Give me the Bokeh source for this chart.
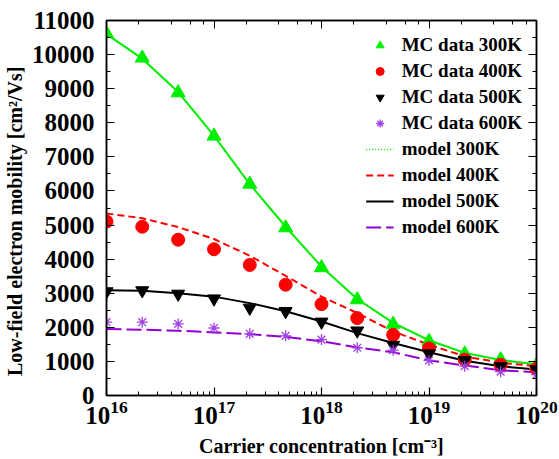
from bokeh.plotting import figure
from bokeh.models import (Range1d, SingleIntervalTicker, LinearAxis, LogAxis, Legend,
                          LegendItem, LogTicker, ColumnDataSource)
from bokeh.embed import file_html
from bokeh.resources import INLINE

conc = [1e16, 2.15e16, 4.64e16, 1e17, 2.15e17, 4.64e17, 1e18, 2.15e18, 4.64e18,
        1e19, 2.15e19, 4.64e19, 1e20]
mc300 = [10620, 9900, 8880, 7610, 6200, 4920, 3750, 2810, 2090, 1590, 1220, 1050, 900]
mc400 = [5100, 4950, 4570, 4290, 3830, 3250, 2680, 2270, 1780, 1380, 1050, 900, 780]
mc500 = [3050, 3080, 2980, 2840, 2570, 2470, 2160, 1900, 1480, 1230, 1030, 850, 760]
mc600 = [2150, 2150, 2100, 1980, 1810, 1750, 1640, 1400, 1330, 1030, 860, 700, 610]
model300 = [10600, 9880, 8900, 7620, 6200, 4950, 3780, 2830, 2130, 1620, 1250, 1040, 920]
model400 = [5340, 5200, 4940, 4590, 4100, 3510, 2900, 2420, 1880, 1490, 1150, 960, 860]
model500 = [3090, 3070, 3000, 2900, 2710, 2470, 2170, 1830, 1540, 1270, 1020, 860, 760]
model600 = [1950, 1930, 1900, 1850, 1800, 1720, 1590, 1410, 1270, 1030, 880, 740, 680]

GREEN = "#00ee00"
RED = "#ff0000"
BLACK = "#000000"
PURPLE = "#9400d3"
FONT = "Liberation Serif"

p = figure(width=559, height=459, x_axis_type="log", output_backend="svg",
           toolbar_location=None, x_range=Range1d(1e16, 1e20), y_range=Range1d(0, 11000),
           min_border_left=106, min_border_right=23, min_border_top=20, min_border_bottom=63)
p.grid.visible = False
p.outline_line_color = "black"
p.outline_line_width = 1.5

src = ColumnDataSource(dict(x=conc, m300=mc300, m400=mc400, m500=mc500, m600=mc600,
                            l300=model300, l400=model400, l500=model500, l600=model600))

# model lines
p.line("x", "l300", source=src, line_color=GREEN, line_width=2)
# dotted overlay on the 300K model (gives the legend its dotted sample)
r_l300 = p.line("x", "l300", source=src, line_color=GREEN, line_width=1.5, line_dash="1 2")
r_l400 = p.line("x", "l400", source=src, line_color=RED, line_width=2, line_dash="7 4")
r_l500 = p.line("x", "l500", source=src, line_color=BLACK, line_width=2)
r_l600 = p.line("x", "l600", source=src, line_color=PURPLE, line_width=2, line_dash="15 5")

# MC markers
r_m300 = p.scatter("x", "m300", source=src, marker="triangle", size=14, fill_color=GREEN, line_color=GREEN)
r_m400 = p.scatter("x", "m400", source=src, marker="circle", size=13, fill_color=RED, line_color=RED)
r_m500 = p.scatter("x", "m500", source=src, marker="inverted_triangle", size=13, fill_color=BLACK, line_color=BLACK)
r_m600 = p.scatter("x", "m600", source=src, marker="asterisk", size=11, line_color="#a040e8", line_width=1.3)

# axes styling
for ax in [p.xaxis[0], p.yaxis[0]]:
    ax.major_tick_in = 8
    ax.major_tick_out = 0
    ax.minor_tick_in = 4
    ax.minor_tick_out = 0
    ax.axis_line_width = 1.5
    ax.major_tick_line_width = 1.2
    ax.major_label_text_font = FONT
    ax.major_label_text_font_style = "bold"
    ax.major_label_text_font_size = "25px"
    ax.major_label_text_color = "black"
    ax.axis_label_text_font = FONT
    ax.axis_label_text_font_style = "bold"
    ax.axis_label_text_font_size = "20px"
    ax.axis_label_text_color = "black"

p.yaxis[0].ticker = SingleIntervalTicker(interval=1000, num_minor_ticks=2)
p.yaxis[0].major_label_standoff = 12
p.yaxis[0].axis_label = "Low-field electron mobility [cm²/Vs]\u2003\u2004"
p.yaxis[0].axis_label_standoff = 3
p.xaxis[0].axis_label = "Carrier concentration [cm⁻³]"
p.xaxis[0].major_label_standoff = 5
p.xaxis[0].axis_label_standoff = 8

# mirrored axes
right = LinearAxis(ticker=SingleIntervalTicker(interval=1000, num_minor_ticks=2),
                   major_label_text_color=None, major_tick_in=8, major_tick_out=0,
                   minor_tick_in=4, minor_tick_out=0, axis_line_width=1.5,
                   major_label_standoff=0)
p.add_layout(right, "right")
top = LogAxis(ticker=LogTicker(), major_label_text_color=None, major_tick_in=8,
              major_tick_out=0, minor_tick_in=4, minor_tick_out=0, axis_line_width=1.5,
              major_label_standoff=0)
p.add_layout(top, "above")

legend = Legend(items=[
    LegendItem(label="MC data 300K", renderers=[r_m300]),
    LegendItem(label="MC data 400K", renderers=[r_m400]),
    LegendItem(label="MC data 500K", renderers=[r_m500]),
    LegendItem(label="MC data 600K", renderers=[r_m600]),
    LegendItem(label="model 300K", renderers=[r_l300]),
    LegendItem(label="model 400K", renderers=[r_l400]),
    LegendItem(label="model 500K", renderers=[r_l500]),
    LegendItem(label="model 600K", renderers=[r_l600]),
], location="top_right")
legend.border_line_color = None
legend.background_fill_alpha = 0
legend.label_text_font = FONT
legend.label_text_font_style = "bold"
legend.label_text_font_size = "19px"
legend.label_text_color = "black"
legend.glyph_width = 28
legend.glyph_height = 20
legend.label_height = 20
legend.label_standoff = 8
legend.spacing = 4
legend.padding = 4
legend.margin = 14
p.add_layout(legend, "center")

open("out.html", "w").write(file_html(p, INLINE))
